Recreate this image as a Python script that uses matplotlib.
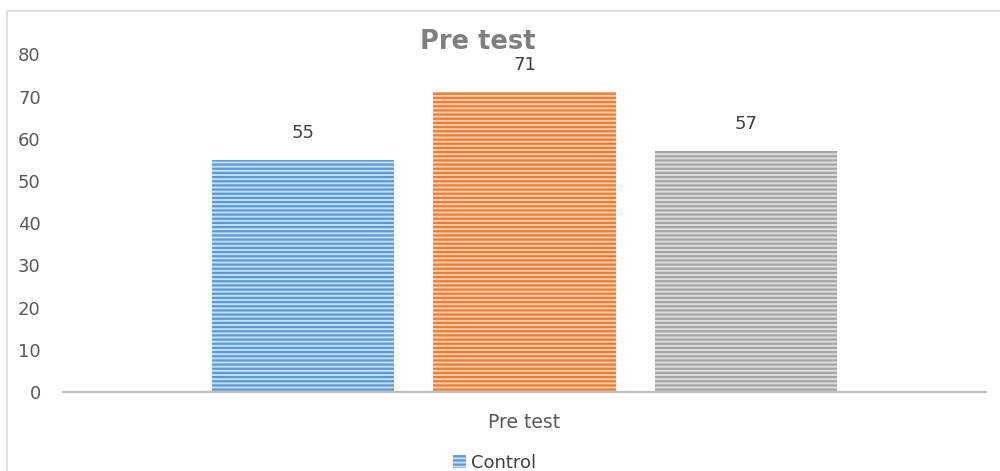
import numpy as np
import matplotlib
matplotlib.use("Agg")
import matplotlib.pyplot as plt
from matplotlib.patches import Rectangle, Patch

# data
category = "Pre test"
series = ["Control", "Group 2", "Group 3"]
values = [55, 71, 57]
colors = ["#5B9BD5", "#ED7D31", "#A5A5A5"]
light = ["#C5DCF1", "#F8CDB0", "#DEDEDE"]
yticks = [0, 10, 20, 30, 40, 50, 60, 70, 80]

plt.rcParams["hatch.linewidth"] = 1.6

fig = plt.figure(figsize=(10, 4.71), dpi=100)
ax = fig.add_axes([0.063, 0.1677, 0.923, 0.717])

# outer chart border
fig.patches.append(Rectangle((0.007, -0.01), 1.0, 0.987, transform=fig.transFigure,
                             fill=False, edgecolor="#D9D9D9", lw=1.2))

step, width = 0.2400, 0.198
xs = 0.5 + (np.arange(len(values)) - 1) * step
for x, v, c, lc, name in zip(xs, values, colors, light, series):
    ax.bar(x, v, width=width, color=lc, edgecolor=c, hatch="----", lw=0, label=name)
    ax.text(x, v + 6.4, f"{v}", ha="center", va="center", fontsize=13, color="#404040")

ax.set_xlim(0, 1)
ax.set_ylim(0, 80)
ax.set_yticks(yticks)
ax.set_xticks([0.5])
ax.set_xticklabels([category])
ax.tick_params(axis="y", length=0, pad=16, labelsize=13, labelcolor="#595959")
ax.tick_params(axis="x", length=0, pad=15, labelsize=13.5, labelcolor="#595959")
for s in ["top", "right", "left"]:
    ax.spines[s].set_visible(False)
ax.spines["bottom"].set_color("#BFBFBF")
ax.spines["bottom"].set_linewidth(1.6)

fig.text(0.478, 0.91, "Pre test", ha="center", va="center", fontsize=18.5,
         fontweight="bold", color="#7F7F7F")

h = [Patch(facecolor=light[0], edgecolor=colors[0], hatch="----", lw=0)]
fig.legend(h, [series[0]], loc="center", bbox_to_anchor=(0.495, 0.017), frameon=False,
           fontsize=13, handlelength=0.7, handleheight=0.7, handletextpad=0.3,
           labelcolor="#404040")

fig.savefig("out.png", dpi=100)
